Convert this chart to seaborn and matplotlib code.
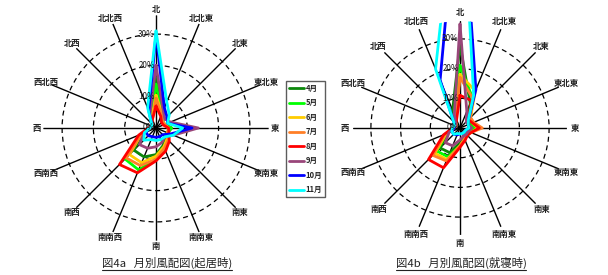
import numpy as np
import pandas as pd
import matplotlib
matplotlib.use("Agg")
import matplotlib.pyplot as plt
from matplotlib.lines import Line2D
import seaborn as sns

# ---------------- data ----------------
directions = ['北', '北北東', '北東', '東北東', '東', '東南東', '南東', '南南東',
              '南', '南南西', '南西', '西南西', '西', '西北西', '北西', '北北西']
months = ['4月', '5月', '6月', '7月', '8月', '9月', '10月', '11月']
month_colors = ['#0b870b', '#00ff00', '#ffcc00', '#ff7f27', '#ff0000',
                '#99467a', '#0000ff', '#00ffff']
ring_values = [0, 10, 20, 30]
ring_labels = ['0%', '10%', '20%', '30%']

# 図4a 起居時 (percent, N clockwise)
a_apr = [16, 5, 3, 3, 5, 4, 4, 6, 8.5, 10, 10, 4.5, 2, 1.5, 2, 4]
a_may = [14, 5, 3, 3, 5, 4, 5, 7, 10, 14.5, 14, 5, 2, 1.5, 2, 4]
a_jun = [10.5, 5, 3, 3, 4, 4, 5, 6.5, 9, 12, 12, 5, 2, 1.5, 2, 3.5]
a_jul = [9.5, 4.5, 3, 3, 4, 4, 5.5, 7, 10, 13, 13.5, 5, 2, 1.5, 2, 3]
a_aug = [7, 4, 2.5, 2.5, 4, 4.5, 6, 8, 10.5, 15.5, 16.5, 6, 2.5, 1.5, 2, 3]
a_sep = [20, 6, 4, 5, 13.5, 6, 4, 5, 6, 7, 7.5, 4, 2, 1.5, 2, 5]
a_oct = [30, 7, 5, 4, 11.5, 5, 3, 3, 3, 3, 3.5, 3.5, 2, 1.5, 2, 6]
a_nov = [31, 9, 6, 4, 8.5, 6, 4, 4, 4, 4, 5.5, 4, 2, 1.5, 2, 7]

# 図4b 就寝時
b_apr = [28, 9, 4, 4, 5, 4, 3, 3.5, 5, 9, 9.5, 4.5, 2, 1.5, 2, 6.5]
b_may = [21, 11, 5, 4, 5, 3.5, 3, 4, 6, 10.5, 11, 5, 2, 1.5, 2, 5]
b_jun = [18, 13.5, 5, 4.5, 6, 4, 3, 4, 6, 11.5, 12, 5, 2, 1.5, 2, 4]
b_jul = [17, 11, 5, 5, 7.5, 4, 3.5, 4, 6, 12, 13, 5.5, 2, 1.5, 2, 3.5]
b_aug = [11, 10, 4, 4.5, 6.5, 4, 3.5, 4.5, 6.5, 14.5, 15, 6, 2.5, 1.5, 2, 3]
b_sep = [35, 6, 3, 3, 4, 3, 3, 3, 4, 6.5, 7, 4, 2, 1.5, 2, 5]
b_oct = [90, 14, 4, 3, 3, 2, 2, 2, 2, 2.5, 3, 3, 2, 2, 3, 17.5]
b_nov = [95, 12, 4, 3, 3, 2, 2, 2, 2, 2, 3, 3, 2.5, 2, 3, 21.5]

chart_a = [a_apr, a_may, a_jun, a_jul, a_aug, a_sep, a_oct, a_nov]
chart_b = [b_apr, b_may, b_jun, b_jul, b_aug, b_sep, b_oct, b_nov]

caption_a = '図4a   月別風配図(起居時)'
caption_b = '図4b   月別風配図(就寝時)'

# ---------------- style ----------------
sns.set_style('white')
FONT = ['Noto Sans CJK JP', 'DejaVu Sans']
plt.rcParams['font.family'] = FONT

W, H = 608, 275
fig = plt.figure(figsize=(W / 100, H / 100), dpi=100)

RMAX = 36.0
angles = np.deg2rad(np.arange(len(directions)) * 22.5)


def build_df(series):
    rows = []
    for m, vals in zip(months, series):
        closed = list(vals) + [vals[0]]
        th = list(angles) + [angles[0]]
        for t, r in zip(th, closed):
            rows.append({'theta': t, 'r': r, 'month': m})
    return pd.DataFrame(rows)


def draw_chart(cx, cy, px_per_pct, series, label_r, show_legend):
    rpx = RMAX * px_per_pct
    rect = [(cx - rpx) / W, (H - cy - rpx) / H, 2 * rpx / W, 2 * rpx / H]
    ax = fig.add_axes(rect, projection='polar')
    ax.set_theta_zero_location('N')
    ax.set_theta_direction(-1)
    ax.set_facecolor('none')
    df = build_df(series)
    sns.lineplot(data=df, x='theta', y='r', hue='month', hue_order=months,
                 palette=month_colors, sort=False, estimator=None,
                 linewidth=2.0, ax=ax, legend=show_legend)
    ax.set_xlabel('')
    ax.set_ylabel('')
    ax.set_ylim(0, RMAX)
    ax.set_xticks(angles)
    ax.set_xticklabels([])
    ax.set_yticks(ring_values[1:])
    ax.set_yticklabels([])
    ax.xaxis.grid(True, color='black', linewidth=1.0, linestyle='-')
    ax.yaxis.grid(True, color='black', linewidth=0.9, linestyle=(0, (4, 3)))
    ax.spines['polar'].set_visible(False)
    ax.set_axisbelow(True)
    for v, lab in zip(ring_values, ring_labels):
        ax.annotate(lab, xy=(0, v), xytext=(-1.0, 0), textcoords='offset points',
                    ha='right', va='center', fontsize=5.8, color='#1a1a1a',
                    family=FONT, zorder=10)
    for t, d in zip(angles, directions):
        ax.text(t, label_r, d, ha='center', va='center', fontsize=6,
                fontweight='bold', color='#222222', family=FONT, clip_on=False)
    return ax


ax_a = draw_chart(156, 128, 3.13, chart_a, 38.0, True)
ax_b = draw_chart(460, 128, 2.97, chart_b, 38.8, False)

handles, labels = ax_a.get_legend_handles_labels()
if ax_a.get_legend() is not None:
    ax_a.get_legend().remove()
for h in handles:
    h.set_linewidth(2.0)
leg = fig.legend(handles, labels, loc='upper left',
                 bbox_to_anchor=(286 / W, 1 - 81 / H), frameon=True,
                 fancybox=False, edgecolor='#333333', fontsize=5.5,
                 handlelength=2.0, handletextpad=0.2, borderpad=0.35,
                 labelspacing=0.72, borderaxespad=0)
leg.get_frame().set_linewidth(1.0)
for txt in leg.get_texts():
    txt.set_fontweight('bold')

caps = []
for x, cap in [(167, caption_a), (461, caption_b)]:
    t = fig.text(x / W, 1 - 263 / H, cap, ha='center', va='center',
                 fontsize=8.2, color='#222222', family=FONT)
    caps.append(t)

fig.canvas.draw()
renderer = fig.canvas.get_renderer()
for t in caps:
    bb = t.get_window_extent(renderer)
    y = bb.y0 - 0.5
    fig.add_artist(Line2D([bb.x0 / W, bb.x1 / W], [y / H, y / H],
                          transform=fig.transFigure, color='#222222', lw=0.8))

fig.savefig('out.png', dpi=100)
